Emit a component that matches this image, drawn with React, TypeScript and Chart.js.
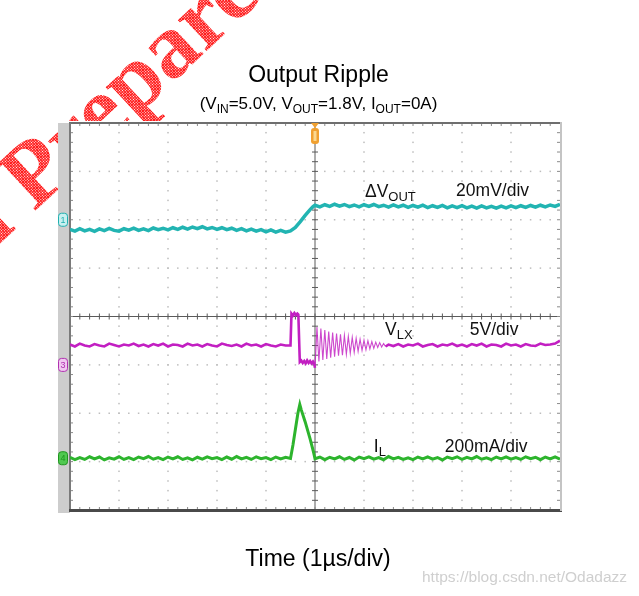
import React, { useEffect, useRef } from "react";
import { Chart, registerables } from "chart.js";

Chart.register(...registerables);

// ---- scope frame: 10 horizontal divisions of 1 µs, 8 vertical divisions ----
const TIME_MIN_US = -5;
const TIME_MAX_US = 5;
const DIV_MIN = 0;
const DIV_MAX = 8;

// channel references (in screen divisions) and scale per division
const CH1_OFFSET_DIV = 6.0; // ΔVOUT
const CH1_MV_PER_DIV = 20;
const CH3_OFFSET_DIV = 3.0; // VLX
const CH3_V_PER_DIV = 5;
const CH4_OFFSET_DIV = 1.07; // IL
const CH4_MA_PER_DIV = 200;

// sample instants (µs)
const sampleGrid = (a: number, b: number, n: number) =>
  Array.from({ length: n }, (_, i) => +(a + (i * (b - a)) / (n - 1)).toFixed(3));

// ---- ΔVOUT (mV) ----
const VOUT_TIME_US = [
  ...sampleGrid(-5, -0.5, 46),
  -0.4, -0.3, -0.2, -0.1, -0.04, 0,
  ...sampleGrid(0.1, 5, 50),
];
const VOUT_MV = [
  -4.0, -4.7, -3.7, -4.6, -4.0, -4.8, -3.8, -4.5, -3.6, -4.4,
  -4.7, -3.7, -4.3, -3.5, -4.4, -3.8, -4.5, -3.4, -4.1, -3.5,
  -4.2, -3.3, -4.0, -3.1, -3.9, -3.0, -3.7, -2.9, -3.8, -3.2,
  -4.0, -3.3, -4.1, -3.5, -4.4, -3.7, -4.6, -3.9, -4.7, -4.1,
  -5.0, -4.2, -5.1, -4.4, -5.1, -4.6,
  -3.2, -0.8, 1.8, 4.2, 5.4, 6.0,
  5.3, 6.2, 5.5, 6.4, 5.6, 6.3, 5.4, 6.1, 5.3, 6.2,
  5.5, 6.3, 5.4, 6.0, 5.2, 6.1, 5.3, 6.0, 5.1, 5.9,
  5.2, 6.0, 5.0, 5.8, 5.1, 5.9, 4.9, 5.7, 5.0, 5.8,
  4.9, 5.6, 4.8, 5.7, 4.9, 5.5, 4.8, 5.6, 4.9, 5.7,
  5.0, 5.8, 5.1, 5.9, 5.2, 6.0, 5.3, 6.1, 5.5, 6.4,
];

// ---- VLX (V) ----
const VLX_TIME_US = [
  ...sampleGrid(-5, -0.6, 45),
  -0.5, -0.48, -0.45, -0.42, -0.39, -0.36, -0.34, -0.31, -0.28, -0.25,
  -0.22, -0.19, -0.16, -0.13, -0.1, -0.07, -0.04, -0.02,
  ...sampleGrid(0, 1.44, 37),
  ...sampleGrid(1.5, 5, 36),
];
const VLX_V = [
  2.1, 1.9, 2.2, 2.0, 1.9, 2.15, 2.0, 1.9, 2.2, 2.05,
  1.9, 2.1, 2.0, 2.2, 1.95, 2.1, 1.9, 2.15, 2.0, 2.2,
  1.9, 2.1, 2.05, 1.9, 2.2, 2.0, 2.1, 1.9, 2.15, 2.0,
  1.9, 2.2, 2.05, 1.95, 2.1, 1.9, 2.2, 2.0, 2.1, 1.9,
  2.15, 2.0, 1.9, 2.1, 2.0,
  2.0, 5.3, 5.1, 5.35, 5.15, 5.3, 5.2, 0.3, 0.45, 0.2,
  0.4, 0.15, 0.45, 0.2, 0.4, 0.15, 0.35, 0.2,
  -0.3, 3.9, 0.35, 3.75, 0.5, 3.6, 0.6, 3.45, 0.75, 3.35,
  0.85, 3.25, 0.95, 3.15, 1.0, 3.05, 1.1, 2.95, 1.2, 2.85,
  1.3, 2.75, 1.4, 2.65, 1.5, 2.55, 1.55, 2.5, 1.65, 2.4,
  1.7, 2.35, 1.8, 2.3, 1.85, 2.2, 1.9,
  2.1, 1.95, 2.15, 1.9, 2.1, 2.0, 2.2, 1.9, 2.05, 2.15,
  1.9, 2.1, 2.0, 2.2, 1.95, 2.1, 1.9, 2.15, 2.0, 2.2,
  1.9, 2.1, 2.05, 1.9, 2.2, 2.0, 2.1, 1.9, 2.15, 2.0,
  1.95, 2.2, 2.05, 2.1, 2.2, 2.5,
];
const VLX_RING_START_US = -0.01;
const VLX_RING_END_US = 1.45;

// ---- IL (mA) ----
const IL_TIME_US = [
  ...sampleGrid(-5, -0.5, 46),
  -0.45, -0.4, -0.35, -0.31, -0.28, -0.2, -0.1, -0.03, 0,
  ...sampleGrid(0.1, 5, 50),
];
const IL_MA = [
  4, -6, 3, -5, 6, -3, 5, -7, 2, -4,
  6, -5, 3, -6, 5, -2, 7, -4, 3, -6,
  5, -3, 6, -5, 2, -7, 4, -4, 6, -2,
  3, -6, 5, -4, 7, -3, 4, -5, 6, -2,
  3, -6, 5, -3, 4, -1,
  55, 120, 185, 222, 200, 150, 80, 25, -2,
  5, -6, 4, -3, 6, -5, 3, -7, 5, -2,
  6, -4, 3, -6, 7, -3, 4, -5, 2, -6,
  5, -3, 6, -4, 3, -7, 5, -2, 6, -5,
  4, -3, 7, -4, 2, -6, 5, -3, 6, -4,
  3, -5, 6, -2, 4, -6, 5, -3, 6, -4,
];

// ---- texts ----
const TITLE = "Output Ripple";
const X_TITLE = "Time (1µs/div)";
const URL_TEXT = "https://blog.csdn.net/Odadazz";
const STAMP_TEXT = "Prepared";
const STAMP_LEAD = "al ";

type Part = { t: string; sub?: boolean };
const SUBTITLE: Part[] = [
  { t: "(V" }, { t: "IN", sub: true }, { t: "=5.0V, V" }, { t: "OUT", sub: true },
  { t: "=1.8V, I" }, { t: "OUT", sub: true }, { t: "=0A)" },
];
// trace annotations: [parts, time µs, division]
const TRACE_LABELS: { parts: Part[]; t: number; d: number }[] = [
  { parts: [{ t: "ΔV" }, { t: "OUT", sub: true }], t: 1.02, d: 6.47 },
  { parts: [{ t: "20mV/div" }], t: 2.88, d: 6.5 },
  { parts: [{ t: "V" }, { t: "LX", sub: true }], t: 1.43, d: 3.62 },
  { parts: [{ t: "5V/div" }], t: 3.16, d: 3.62 },
  { parts: [{ t: "I" }, { t: "L", sub: true }], t: 1.2, d: 1.2 },
  { parts: [{ t: "200mA/div" }], t: 2.65, d: 1.2 },
];

const SANS = '"Liberation Sans", Arial, sans-serif';

function drawParts(ctx: CanvasRenderingContext2D, parts: Part[], x: number, y: number, size: number, align: "left" | "center") {
  const subSize = Math.round(size * 0.72);
  let total = 0;
  for (const p of parts) {
    ctx.font = `${p.sub ? subSize : size}px ${SANS}`;
    total += ctx.measureText(p.t).width;
  }
  let cx = align === "center" ? x - total / 2 : x;
  ctx.textAlign = "left";
  ctx.textBaseline = "alphabetic";
  for (const p of parts) {
    ctx.font = `${p.sub ? subSize : size}px ${SANS}`;
    ctx.fillText(p.t, cx, p.sub ? y + size * 0.22 : y);
    cx += ctx.measureText(p.t).width;
  }
}

const scopePlugin = {
  id: "scopeFrame",
  beforeDraw(chart: any) {
    const ctx: CanvasRenderingContext2D = chart.ctx;
    const W = chart.width;
    const H = chart.height;
    ctx.save();
    ctx.fillStyle = "#ffffff";
    ctx.fillRect(0, 0, W, H);

    // red stamp watermark (halftone)
    const pc = document.createElement("canvas");
    pc.width = 2;
    pc.height = 2;
    const pctx = pc.getContext("2d")!;
    pctx.fillStyle = "#ff1414";
    pctx.fillRect(0, 0, 2, 2);
    pctx.clearRect(1, 1, 1, 1);
    const pattern = ctx.createPattern(pc, "repeat");
    ctx.save();
    ctx.translate(34, 212);
    ctx.rotate((-43 * Math.PI) / 180);
    ctx.font = 'bold 92px "Liberation Serif", serif';
    ctx.fillStyle = pattern || "#ff3030";
    ctx.textBaseline = "alphabetic";
    ctx.textAlign = "left";
    ctx.fillText(STAMP_TEXT, 0, 0);
    ctx.textAlign = "right";
    ctx.fillText(STAMP_LEAD, 0, 0);
    ctx.restore();

    // titles
    ctx.fillStyle = "#000000";
    ctx.font = `23px ${SANS}`;
    ctx.textAlign = "center";
    ctx.fillText(TITLE, 318.5, 82);
    drawParts(ctx, SUBTITLE, 318.5, 109, 17, "center");
    ctx.font = `23px ${SANS}`;
    ctx.textAlign = "center";
    ctx.fillStyle = "#000000";
    ctx.fillText(X_TITLE, 318, 566);
    ctx.font = `15.5px ${SANS}`;
    ctx.textAlign = "left";
    ctx.fillStyle = "#cfcfcf";
    ctx.fillText(URL_TEXT, 422, 582);
    ctx.restore();
  },
  beforeDatasetsDraw(chart: any) {
    const ctx: CanvasRenderingContext2D = chart.ctx;
    const { left, right, top, bottom } = chart.chartArea;
    const w = right - left;
    const h = bottom - top;
    ctx.save();
    ctx.fillStyle = "#ffffff";
    ctx.fillRect(left - 12, top - 2, w + 14, h + 4);
    // side bar
    ctx.fillStyle = "#cdcdcd";
    ctx.fillRect(left - 12, top, 12, h + 3);

    // dotted graticule
    ctx.fillStyle = "#bdbdbd";
    for (let i = 1; i < 10; i++) {
      if (i === 5) continue;
      const x = left + (i * w) / 10;
      for (let j = 1; j < 40; j++) {
        const y = top + (j * h) / 40;
        ctx.fillRect(x - 0.75, y - 0.75, 1.5, 1.5);
      }
    }
    for (let i = 1; i < 8; i++) {
      if (i === 4) continue;
      const y = top + (i * h) / 8;
      for (let j = 1; j < 50; j++) {
        const x = left + (j * w) / 50;
        ctx.fillRect(x - 0.75, y - 0.75, 1.5, 1.5);
      }
    }
    // center axes with ticks
    const cx = left + w / 2;
    const cy = top + h / 2;
    ctx.strokeStyle = "#5a5a5a";
    ctx.lineWidth = 1;
    ctx.beginPath();
    ctx.moveTo(cx, top);
    ctx.lineTo(cx, bottom);
    ctx.moveTo(left, cy);
    ctx.lineTo(right, cy);
    for (let j = 1; j < 40; j++) {
      const y = top + (j * h) / 40;
      ctx.moveTo(cx - 3, y);
      ctx.lineTo(cx + 3, y);
    }
    for (let j = 1; j < 50; j++) {
      const x = left + (j * w) / 50;
      ctx.moveTo(x, cy - 3);
      ctx.lineTo(x, cy + 3);
    }
    ctx.stroke();
    // border ticks
    ctx.strokeStyle = "#8a8a8a";
    ctx.beginPath();
    for (let j = 1; j < 50; j++) {
      const x = left + (j * w) / 50;
      ctx.moveTo(x, top);
      ctx.lineTo(x, top + 3);
      ctx.moveTo(x, bottom);
      ctx.lineTo(x, bottom - 3);
    }
    for (let j = 1; j < 40; j++) {
      const y = top + (j * h) / 40;
      ctx.moveTo(left, y);
      ctx.lineTo(left + 3, y);
      ctx.moveTo(right, y);
      ctx.lineTo(right - 3, y);
    }
    ctx.stroke();
    // borders
    ctx.fillStyle = "#6e6e6e";
    ctx.fillRect(left - 1, top - 1, w + 1, 2);
    ctx.fillStyle = "#7a7a7a";
    ctx.fillRect(left - 1, top, 2, h);
    ctx.fillStyle = "#4a4a4a";
    ctx.fillRect(left - 1, bottom - 1, w + 3, 3);
    ctx.fillStyle = "#c4c4c4";
    ctx.fillRect(right, top - 1, 2, h + 2);
    ctx.restore();
  },
  afterDatasetsDraw(chart: any) {
    const ctx: CanvasRenderingContext2D = chart.ctx;
    const xs = chart.scales.x;
    const ys = chart.scales.y;
    const { left, top } = chart.chartArea;
    ctx.save();
    ctx.fillStyle = "#111111";
    for (const lab of TRACE_LABELS) {
      drawParts(ctx, lab.parts, xs.getPixelForValue(lab.t), ys.getPixelForValue(lab.d), 17.5, "left");
    }
    // channel reference markers
    const markers: [number, string, string, string][] = [
      [CH1_OFFSET_DIV, "1", "#c8f0f0", "#20b0b0"],
      [CH3_OFFSET_DIV, "3", "#f0c8f0", "#b030b0"],
      [CH4_OFFSET_DIV, "4", "#50c850", "#1e961e"],
    ];
    for (const [d, label, fill, stroke] of markers) {
      const y = ys.getPixelForValue(d);
      ctx.fillStyle = fill;
      ctx.strokeStyle = stroke;
      ctx.lineWidth = 1;
      ctx.beginPath();
      ctx.roundRect(left - 11.5, y - 6.5, 9, 13, 3);
      ctx.fill();
      ctx.stroke();
      ctx.fillStyle = stroke;
      ctx.font = `9px ${SANS}`;
      ctx.textAlign = "center";
      ctx.textBaseline = "middle";
      ctx.fillText(label, left - 7, y + 0.5);
    }
    // trigger marker
    const tx = xs.getPixelForValue(0);
    ctx.fillStyle = "#f0a030";
    ctx.beginPath();
    ctx.moveTo(tx - 4, top);
    ctx.lineTo(tx + 4, top);
    ctx.lineTo(tx, top + 5);
    ctx.closePath();
    ctx.fill();
    ctx.beginPath();
    ctx.roundRect(tx - 4, top + 5, 8, 16, 3);
    ctx.fill();
    ctx.fillStyle = "#fbd890";
    ctx.fillRect(tx - 1.5, top + 8, 3, 10);
    ctx.restore();
  },
};

export default function App() {
  const canvasRef = useRef<HTMLCanvasElement | null>(null);

  useEffect(() => {
    const canvas = canvasRef.current;
    if (!canvas) return;
    const vout = VOUT_TIME_US.map((t, i) => ({ x: t, y: CH1_OFFSET_DIV + VOUT_MV[i] / CH1_MV_PER_DIV }));
    const vlx = VLX_TIME_US.map((t, i) => ({ x: t, y: CH3_OFFSET_DIV + VLX_V[i] / CH3_V_PER_DIV }));
    const il = IL_TIME_US.map((t, i) => ({ x: t, y: CH4_OFFSET_DIV + IL_MA[i] / CH4_MA_PER_DIV }));
    const inRing = (c: any) => c.p0.parsed.x >= VLX_RING_START_US && c.p1.parsed.x <= VLX_RING_END_US;

    const chart = new Chart(canvas, {
      type: "line",
      data: {
        datasets: [
          { label: "ΔVOUT", data: vout, borderColor: "#22b4b2", borderWidth: 3.5, pointRadius: 0, tension: 0 },
          {
            label: "VLX",
            data: vlx,
            borderColor: "#c21fc2",
            borderWidth: 2.6,
            pointRadius: 0,
            tension: 0,
            segment: {
              borderWidth: (c: any) => (inRing(c) ? 1.1 : 2.6),
              borderColor: (c: any) => (inRing(c) ? "rgba(196,40,196,0.85)" : "#c21fc2"),
            },
          },
          { label: "IL", data: il, borderColor: "#2db42d", borderWidth: 3, pointRadius: 0, tension: 0 },
        ],
      },
      options: {
        animation: false,
        responsive: false,
        devicePixelRatio: 1,
        layout: { padding: { left: 70, right: 79, top: 123, bottom: 86 } },
        scales: {
          x: { type: "linear", min: TIME_MIN_US, max: TIME_MAX_US, display: false },
          y: { type: "linear", min: DIV_MIN, max: DIV_MAX, display: false },
        },
        plugins: {
          legend: { display: false },
          tooltip: { enabled: false },
          title: { display: false },
        },
      },
      plugins: [scopePlugin],
    });
    return () => chart.destroy();
  }, []);

  return (
    <div style={{ position: "absolute", left: 0, top: 0, width: 639, height: 596 }}>
      <canvas ref={canvasRef} width={639} height={596} style={{ display: "block" }} />
    </div>
  );
}
